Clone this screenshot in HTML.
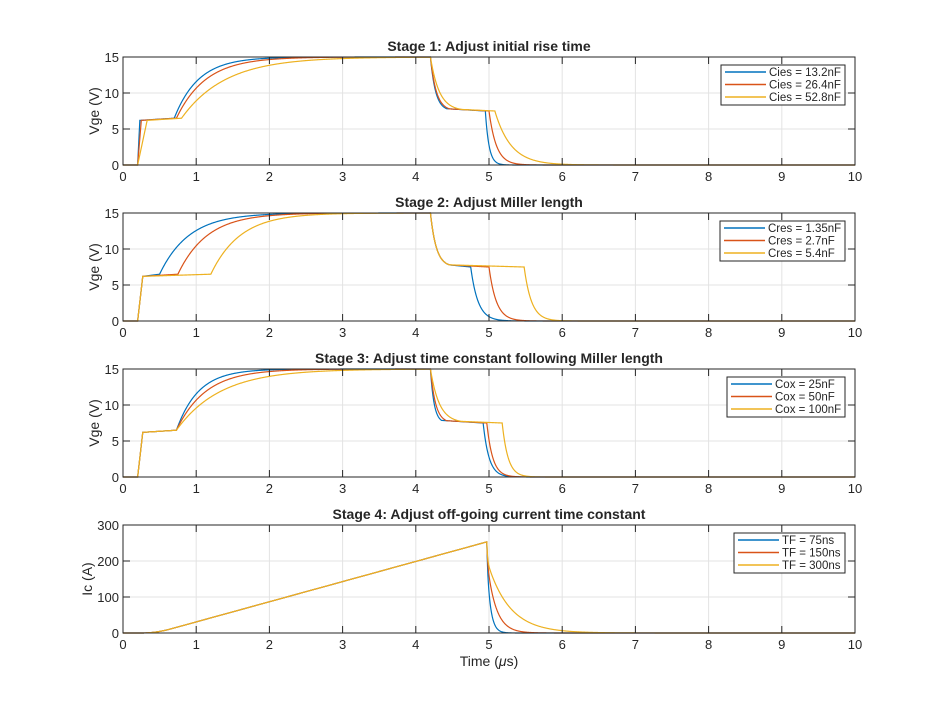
<!DOCTYPE html>
<html><head><meta charset="utf-8"><style>
body{margin:0;background:#fff;}
svg text{font-family:"Liberation Sans",Arial,sans-serif;fill:#262626;}
</style></head><body>
<svg id="s" width="946" height="712" xmlns="http://www.w3.org/2000/svg"></svg>
<script>
const S=document.getElementById('s');
const X0=123,X1=855;
const C=['#0072BD','#D95319','#EDB120'];
let h='';
function px(t){return X0+(X1-X0)*t/10;}
function gate(p){
 return function(t){
  if(t<0.2) return 0;
  if(t<p.t1) return 6.2*(t-0.2)/(p.t1-0.2);
  if(t<p.tm) return 6.2+0.3*(t-p.t1)/(p.tm-p.t1);
  if(t<4.2) return 15-8.5*Math.exp(-(t-p.tm)/p.tau);
  const vfall=7.5+7.5*Math.exp(-(t-4.2)/p.tau1);
  if(t<p.tf) return Math.max(vfall,7.5+0.3*Math.max(0,1-(t-4.45)/(p.tf-4.45)));
  return 7.5*Math.exp(-(t-p.tf)/p.tau2);
 };
}
function ic(tau){return function(t){
  let v;
  if(t<0.25) v=0; else if(t<0.65) v=70*(t-0.25)*(t-0.25); else v=11.2+56*(t-0.65);
  if(t<=4.97) return Math.min(v,253);
  const dt=t-4.97; return 253*(0.2*Math.exp(-dt/0.01)+0.8*Math.exp(-dt/tau));
};}
const plots=[
 {top:57,title:'Stage 1: Adjust initial rise time',yl:'Vge (V)',ymax:15,ticks:[0,5,10,15],
  leg:['Cies = 13.2nF','Cies = 26.4nF','Cies = 52.8nF'],lx:721,lw:124,
  f:[gate({t1:0.23,tm:0.7,tau:0.33,tau1:0.07,tf:4.95,tau2:0.05}),gate({t1:0.25,tm:0.73,tau:0.4,tau1:0.08,tf:5.0,tau2:0.1}),gate({t1:0.33,tm:0.8,tau:0.6,tau1:0.12,tf:5.08,tau2:0.22})]},
 {top:213,title:'Stage 2: Adjust Miller length',yl:'Vge (V)',ymax:15,ticks:[0,5,10,15],
  leg:['Cres = 1.35nF','Cres = 2.7nF','Cres = 5.4nF'],lx:720,lw:125,
  f:[gate({t1:0.27,tm:0.5,tau:0.4,tau1:0.08,tf:4.75,tau2:0.1}),gate({t1:0.27,tm:0.75,tau:0.4,tau1:0.08,tf:5.0,tau2:0.1}),gate({t1:0.27,tm:1.2,tau:0.4,tau1:0.08,tf:5.48,tau2:0.1})]},
 {top:369,title:'Stage 3: Adjust time constant following Miller length',yl:'Vge (V)',ymax:15,ticks:[0,5,10,15],
  leg:['Cox = 25nF','Cox = 50nF','Cox = 100nF'],lx:727,lw:118,
  f:[gate({t1:0.27,tm:0.73,tau:0.3,tau1:0.05,tf:4.92,tau2:0.08}),gate({t1:0.27,tm:0.73,tau:0.4,tau1:0.07,tf:4.97,tau2:0.08}),gate({t1:0.27,tm:0.73,tau:0.6,tau1:0.12,tf:5.18,tau2:0.08})]},
 {top:525,title:'Stage 4: Adjust off-going current time constant',yl:'Ic (A)',ymax:300,ticks:[0,100,200,300],
  leg:['TF = 75ns','TF = 150ns','TF = 300ns'],lx:734,lw:111,
  f:[ic(0.05),ic(0.12),ic(0.3)]}
];
for(const p of plots){
 const T=p.top,B=T+108;
 const py=v=>B-(B-T)*v/p.ymax;
 for(let i=1;i<10;i++) h+=`<line x1="${px(i)}" y1="${T}" x2="${px(i)}" y2="${B}" stroke="#e3e3e3"/>`;
 for(const v of p.ticks.slice(1,-1)) h+=`<line x1="${X0}" y1="${py(v)}" x2="${X1}" y2="${py(v)}" stroke="#e3e3e3"/>`;
 p.f.forEach((f,k)=>{let d='';for(let t=0;t<=10.0001;t+=0.005){d+=(d?'L':'M')+px(t).toFixed(2)+','+py(f(t)).toFixed(2);}
  h+=`<path d="${d}" fill="none" stroke="${C[k]}" stroke-width="1.2"/>`;});
 h+=`<rect x="${X0}" y="${T}" width="${X1-X0}" height="${B-T}" fill="none" stroke="#262626" stroke-width="1"/>`;
 for(let i=0;i<=10;i++){h+=`<line x1="${px(i)}" y1="${B}" x2="${px(i)}" y2="${B-7}" stroke="#262626"/><line x1="${px(i)}" y1="${T}" x2="${px(i)}" y2="${T+7}" stroke="#262626"/>`;
  h+=`<text x="${px(i)}" y="${B+16}" font-size="13" text-anchor="middle">${i}</text>`;}
 for(const v of p.ticks){h+=`<line x1="${X0}" y1="${py(v)}" x2="${X0+7}" y2="${py(v)}" stroke="#262626"/><line x1="${X1}" y1="${py(v)}" x2="${X1-7}" y2="${py(v)}" stroke="#262626"/>`;
  h+=`<text x="${X0-4}" y="${py(v)+5}" font-size="13" text-anchor="end">${v}</text>`;}
 h+=`<text x="489" y="${T-6}" font-size="14" font-weight="bold" text-anchor="middle">${p.title}</text>`;
 const yx=p.ymax>100?92:99;
 h+=`<text transform="translate(${yx},${(T+B)/2}) rotate(-90)" font-size="14" text-anchor="middle">${p.yl}</text>`;
 const ly=T+8;
 h+=`<rect x="${p.lx}" y="${ly}" width="${p.lw}" height="40" fill="#fff" stroke="#262626"/>`;
 p.leg.forEach((s,k)=>{const yy=ly+7+k*12.5;
  h+=`<line x1="${p.lx+4}" y1="${yy}" x2="${p.lx+45}" y2="${yy}" stroke="${C[k]}" stroke-width="1.5"/>`;
  h+=`<text x="${p.lx+48}" y="${yy+4}" font-size="11.5">${s}</text>`;});
}
h+=`<text x="489" y="666" font-size="14" text-anchor="middle">Time  (<tspan font-style="italic">μ</tspan>s)</text>`;
S.innerHTML=h;
</script>
</body></html>
